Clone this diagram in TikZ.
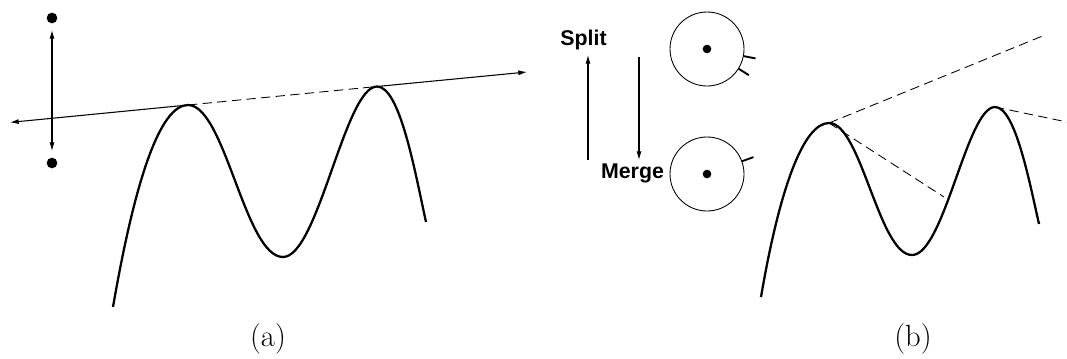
\documentclass[tikz,border=0pt]{standalone}
\usepackage{fontspec}
\newfontfamily\helv{Liberation Sans}
\usetikzlibrary{arrows.meta}
\begin{document}
\begin{tikzpicture}[x=0.75pt,y=-0.75pt,
  curveline/.style={line width=1.7pt},
  thinline/.style={line width=0.8pt},
  tipstyle/.style={-{Latex[length=6.5pt,width=3.8pt]}},
  dashline/.style={line width=0.65pt,dash pattern=on 7pt off 4pt},
  bigdot/.style={circle,fill=black,inner sep=0pt,minimum size=8pt},
  smalldot/.style={circle,fill=black,inner sep=0pt,minimum size=6.5pt},
  ring/.style={circle,draw,line width=0.65pt,inner sep=0pt,minimum size=55.5pt},
  tick/.style={line width=1.4pt},
  caption/.style={font=\fontsize{23}{27}\selectfont,inner sep=0pt},
  word/.style={font=\helv\bfseries\fontsize{16}{19}\selectfont,inner sep=0pt}]
\useasboundingbox (0,0) rectangle (1067,358);
% ---------- (a) ----------
\node[bigdot] (d1) at (52,18) {};
\node[bigdot] (d2) at (52,163) {};
\coordinate (va) at (52,30);
\coordinate (vb) at (52,151);
\draw[thinline,{Latex[length=6.5pt,width=3.8pt]}-{Latex[length=6.5pt,width=3.8pt]}] (va) -- (vb);
\coordinate (S) at (113,307);
\coordinate (P1) at (188,105);
\coordinate (T) at (283,257);
\coordinate (P2) at (377,86.5);
\coordinate (E) at (426,222);
\coordinate (L) at (10,122.4);
\coordinate (R) at (527,72);
\draw[curveline] (S) .. controls (135,180) and (160,105) .. (P1)
  .. controls (225,105) and (245,257) .. (T)
  .. controls (318,257) and (345,86.5) .. (P2)
  .. controls (400,86.5) and (415,172) .. (E);
\draw[thinline,tipstyle] (P1) -- (L);
\draw[dashline] (P1) -- (P2);
\draw[thinline,tipstyle] (P2) -- (R);
\node[caption] (capa) at (268,339) {(a)};
% ---------- (b) ----------
\node[word] (split) at (583.5,40) {Split};
\node[word] (merge) at (632.5,173) {Merge};
\coordinate (ua) at (588,160);
\coordinate (ub) at (588,55);
\coordinate (da) at (639,57);
\coordinate (db) at (639,160);
\draw[thinline,tipstyle] (ua) -- (ub);
\draw[thinline,tipstyle] (da) -- (db);
\node[ring] (c1) at (707,49) {};
\node[smalldot] (c1d) at (707,49) {};
\node[ring] (c2) at (707,174) {};
\node[smalldot] (c2d) at (707,174) {};
\draw[tick] (c1.-11) -- ++(-11:9pt);
\draw[tick] (c1.-32) -- ++(-32:9pt);
\draw[tick] (c2.20) -- ++(20:9pt);
\coordinate (S2) at (761,297);
\coordinate (Q1) at (829,123);
\coordinate (T2) at (912,255);
\coordinate (Q2) at (995,107);
\coordinate (E2) at (1039,224);
\draw[curveline] (S2) .. controls (780,186) and (804,123) .. (Q1)
  .. controls (861,123) and (879,255) .. (T2)
  .. controls (944,255) and (967,107) .. (Q2)
  .. controls (1015,107) and (1029,180) .. (E2);
\coordinate (far1) at (1045,35);
\coordinate (mid1) at (944,197);
\coordinate (far2) at (1067,122);
\draw[dashline] (Q1) -- (far1);
\draw[dashline] (Q1) -- (mid1);
\draw[dashline] (Q2) -- (far2);
\node[caption] (capb) at (913,339) {(b)};
\end{tikzpicture}
\end{document}
